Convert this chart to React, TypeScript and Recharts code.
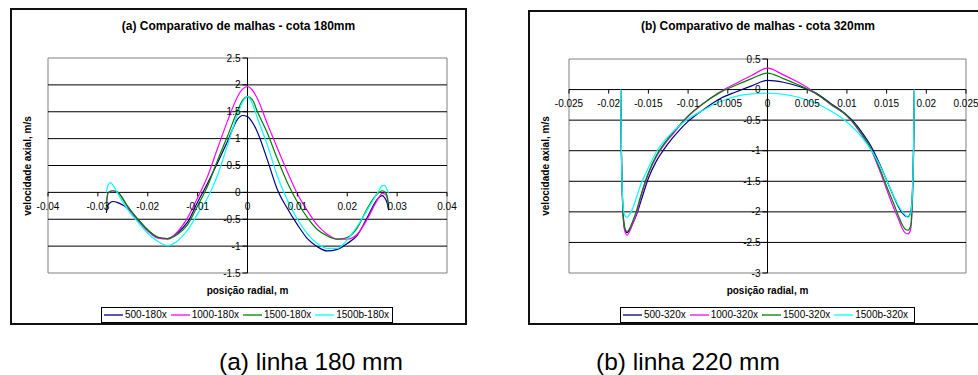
import { LineChart, Line, XAxis, YAxis, ReferenceLine, ReferenceDot, ReferenceArea } from "recharts";

// (a) cota 180mm
const xsA = [-0.0283, -0.028, -0.0275, -0.027, -0.026, -0.024, -0.022, -0.02, -0.018, -0.016, -0.014, -0.012, -0.01, -0.008, -0.006, -0.004, -0.002, -0.001, 0, 0.001, 0.002, 0.004, 0.006, 0.008, 0.01, 0.012, 0.014, 0.016, 0.018, 0.02, 0.022, 0.024, 0.026, 0.027, 0.0275, 0.028, 0.0283];
const a500 = [-0.38, -0.24, -0.19, -0.17, -0.19, -0.3, -0.5, -0.7, -0.84, -0.86, -0.75, -0.55, -0.18, 0.17, 0.55, 0.95, 1.36, 1.43, 1.41, 1.3, 1.12, 0.6, 0.05, -0.3, -0.6, -0.86, -1.01, -1.09, -1.06, -0.95, -0.8, -0.47, -0.13, -0.06, -0.1, -0.2, -0.33];
const a1000 = [-0.18, -0.02, 0.02, 0.03, 0.0, -0.28, -0.52, -0.72, -0.85, -0.87, -0.73, -0.47, -0.1, 0.3, 0.82, 1.33, 1.78, 1.92, 1.97, 1.9, 1.74, 1.27, 0.82, 0.38, -0.03, -0.34, -0.61, -0.78, -0.87, -0.87, -0.78, -0.5, -0.15, -0.02, -0.03, -0.1, -0.28];
const a1500 = [-0.3, -0.02, 0.02, 0.03, 0.0, -0.26, -0.5, -0.7, -0.83, -0.86, -0.78, -0.6, -0.25, 0.12, 0.6, 1.05, 1.52, 1.71, 1.78, 1.72, 1.5, 1.1, 0.62, 0.18, -0.18, -0.47, -0.69, -0.81, -0.87, -0.84, -0.66, -0.3, -0.03, 0.03, 0.01, -0.06, -0.3];
const a1500b = [0.0, 0.13, 0.18, 0.14, -0.02, -0.32, -0.55, -0.76, -0.91, -0.99, -0.9, -0.7, -0.4, -0.1, 0.32, 0.88, 1.45, 1.68, 1.78, 1.65, 1.38, 0.88, 0.3, -0.14, -0.5, -0.77, -0.95, -1.04, -1.04, -0.88, -0.63, -0.33, -0.02, 0.12, 0.13, 0.05, -0.02];

// (b) cota 320mm
const xsB = [-0.0185, -0.0184, -0.0182, -0.018, -0.0177, -0.0174, -0.017, -0.0165, -0.016, -0.015, -0.014, -0.013, -0.012, -0.011, -0.01, -0.008, -0.006, -0.004, -0.002, 0, 0.002, 0.004, 0.006, 0.008, 0.01, 0.011, 0.012, 0.013, 0.014, 0.015, 0.016, 0.0165, 0.017, 0.0174, 0.0177, 0.018, 0.0182, 0.0184, 0.0185];
const b500 = [0, -1.0, -2.0, -2.27, -2.34, -2.3, -2.2, -2.05, -1.85, -1.45, -1.17, -0.97, -0.8, -0.65, -0.52, -0.32, -0.15, -0.04, 0.06, 0.15, 0.12, 0.05, -0.05, -0.23, -0.42, -0.55, -0.72, -0.92, -1.18, -1.48, -1.78, -1.92, -2.02, -2.07, -2.08, -2.02, -1.8, -0.9, 0];
const b1000 = [0, -1.0, -2.0, -2.3, -2.38, -2.33, -2.2, -2.03, -1.78, -1.38, -1.1, -0.9, -0.74, -0.58, -0.44, -0.22, -0.04, 0.1, 0.23, 0.35, 0.24, 0.11, -0.05, -0.25, -0.43, -0.58, -0.77, -0.97, -1.28, -1.63, -1.97, -2.12, -2.28, -2.35, -2.36, -2.3, -2.0, -1.0, 0];
const b1500 = [0, -1.0, -1.98, -2.24, -2.32, -2.28, -2.16, -1.98, -1.75, -1.36, -1.08, -0.88, -0.72, -0.57, -0.43, -0.22, -0.05, 0.07, 0.18, 0.27, 0.18, 0.07, -0.06, -0.24, -0.43, -0.57, -0.75, -0.96, -1.25, -1.58, -1.9, -2.07, -2.22, -2.29, -2.3, -2.24, -1.95, -1.0, 0];
const b1500b = [0, -1.0, -1.9, -2.05, -2.09, -2.05, -1.95, -1.76, -1.57, -1.28, -1.02, -0.84, -0.7, -0.58, -0.48, -0.33, -0.2, -0.11, -0.07, -0.06, -0.08, -0.13, -0.22, -0.35, -0.53, -0.65, -0.8, -0.98, -1.2, -1.48, -1.77, -1.9, -2.0, -2.06, -2.09, -2.04, -1.82, -0.9, 0];

const xTicksA = [-0.04, -0.03, -0.02, -0.01, 0, 0.01, 0.02, 0.03, 0.04];
const yTicksA = [-1.5, -1, -0.5, 0, 0.5, 1, 1.5, 2, 2.5];
const xTicksB = [-0.025, -0.02, -0.015, -0.01, -0.005, 0, 0.005, 0.01, 0.015, 0.02, 0.025];
const yTicksB = [-3, -2.5, -2, -1.5, -1, -0.5, 0, 0.5];

const namesA = ["500-180x", "1000-180x", "1500-180x", "1500b-180x"];
const namesB = ["500-320x", "1000-320x", "1500-320x", "1500b-320x"];
const colors = ["#000080", "#FF00FF", "#008000", "#00FFFF"];

const FONT = '"Liberation Sans", Arial, sans-serif';

const xTick = (label: string) => (p: any) => (
  <g>
    <line x1={p.cx} y1={p.cy} x2={p.cx} y2={p.cy + 4} stroke="#000" />
    <text x={p.cx} y={p.cy + 14} dy="0.35em" textAnchor="middle" fontSize={10} fill="#000" fontFamily={FONT}>
      {label}
    </text>
  </g>
);

const yTick = (label: string) => (p: any) => (
  <g>
    <line x1={p.cx - 5} y1={p.cy} x2={p.cx} y2={p.cy} stroke="#000" />
    <text x={p.cx - 7} y={p.cy} dy="0.35em" textAnchor="end" fontSize={10} fill="#000" fontFamily={FONT}>
      {label}
    </text>
  </g>
);

function Panel({ xs, series, names, xTicks, yTicks, width, height, margin }: any) {
  const xMin = xTicks[0];
  const xMax = xTicks[xTicks.length - 1];
  const yMin = yTicks[0];
  const yMax = yTicks[yTicks.length - 1];
  return (
    <LineChart width={width} height={height} margin={margin}>
      <XAxis type="number" dataKey="x" domain={[xMin, xMax]} hide allowDataOverflow />
      <YAxis type="number" domain={[yMin, yMax]} hide allowDataOverflow />
      <ReferenceArea x1={xMin} x2={xMax} y1={yMin} y2={yMax} fill="#fff" fillOpacity={1} stroke="#808080" ifOverflow="visible" />
      {yTicks.slice(1, -1).map((t: number) => (
        <ReferenceLine key={"g" + t} y={t} stroke="#000" strokeWidth={1} />
      ))}
      <ReferenceLine x={0} stroke="#000" />
      {xTicks.map((t: number) => (
        <ReferenceDot key={"x" + t} x={t} y={0} r={1} ifOverflow="visible" shape={xTick(String(t))} />
      ))}
      {yTicks.map((t: number) => (
        <ReferenceDot key={"y" + t} x={0} y={t} r={1} ifOverflow="visible" shape={yTick(String(t))} />
      ))}
      {series.map((s: number[], i: number) => (
        <Line
          key={names[i]}
          name={names[i]}
          data={xs.map((x: number, j: number) => ({ x, y: s[j] }))}
          dataKey="y"
          type="monotone"
          stroke={colors[i]}
          strokeWidth={1.2}
          dot={false}
          activeDot={false}
          isAnimationActive={false}
        />
      ))}
    </LineChart>
  );
}

function LegendBox({ names, left, width }: { names: string[]; left: number; width: number }) {
  return (
    <div
      style={{
        position: "absolute",
        left,
        top: 307,
        width,
        height: 16,
        boxSizing: "border-box",
        border: "1px solid #000",
        background: "#fff",
        display: "flex",
        flexWrap: "nowrap",
        alignItems: "center",
        paddingLeft: 2,
        fontSize: 10,
        lineHeight: "12px",
        fontFamily: FONT,
        whiteSpace: "nowrap",
        overflow: "hidden",
      }}
    >
      {names.map((n, i) => (
        <div key={n} style={{ display: "flex", alignItems: "center", marginRight: 4, flexShrink: 0 }}>
          <svg width={19} height={4} style={{ marginRight: 2, flexShrink: 0 }}>
            <line x1={0} y1={2} x2={19} y2={2} stroke={colors[i]} strokeWidth={1.3} />
          </svg>
          <span style={{ whiteSpace: "nowrap" }}>{n}</span>
        </div>
      ))}
    </div>
  );
}

const abs = (s: any) => ({ position: "absolute" as const, fontFamily: FONT, color: "#000", whiteSpace: "nowrap" as const, ...s });

export default function App() {
  return (
    <div style={{ position: "absolute", left: 0, top: 0, width: 978, height: 375, overflow: "hidden", background: "#fff" }}>
      {/* frames */}
      <div style={abs({ left: 10, top: 8, width: 457, height: 317, border: "2px solid #111", boxSizing: "border-box" })} />
      <div style={abs({ left: 528, top: 10, width: 470, height: 315, border: "2px solid #111", boxSizing: "border-box" })} />

      <div style={abs({ left: 0, top: 0 })}>
        <Panel
          xs={xsA}
          series={[a500, a1000, a1500, a1500b]}
          names={namesA}
          xTicks={xTicksA}
          yTicks={yTicksA}
          width={478}
          height={330}
          margin={{ top: 58, right: 31, bottom: 57, left: 48 }}
        />
      </div>
      <div style={abs({ left: 488, top: 0 })}>
        <Panel
          xs={xsB}
          series={[b500, b1000, b1500, b1500b]}
          names={namesB}
          xTicks={xTicksB}
          yTicks={yTicksB}
          width={490}
          height={330}
          margin={{ top: 59, right: 12, bottom: 57, left: 81 }}
        />
      </div>

      {/* titles */}
      <div style={abs({ left: 10, width: 457, top: 19, textAlign: "center", fontSize: 12, fontWeight: "bold" })}>
        (a) Comparativo de malhas - cota 180mm
      </div>
      <div style={abs({ left: 528, width: 460, top: 19, textAlign: "center", fontSize: 12, fontWeight: "bold" })}>
        (b) Comparativo de malhas - cota 320mm
      </div>

      {/* axis titles */}
      <div style={abs({ left: 27, top: 166, transform: "translate(-50%, -50%) rotate(-90deg)", fontSize: 10, fontWeight: "bold" })}>
        velocidade axial, m/s
      </div>
      <div style={abs({ left: 545, top: 166, transform: "translate(-50%, -50%) rotate(-90deg)", fontSize: 10, fontWeight: "bold" })}>
        velocidade axial, m/s
      </div>
      <div style={abs({ left: 247.5, top: 290, transform: "translate(-50%, -50%)", fontSize: 10, fontWeight: "bold" })}>
        posição radial, m
      </div>
      <div style={abs({ left: 767.5, top: 290, transform: "translate(-50%, -50%)", fontSize: 10, fontWeight: "bold" })}>
        posição radial, m
      </div>

      <LegendBox names={namesA} left={101} width={292} />
      <LegendBox names={namesB} left={620} width={295} />

      {/* captions */}
      <div style={abs({ left: 311, top: 362, transform: "translate(-50%, -50%)", fontSize: 24.5 })}>(a) linha 180 mm</div>
      <div style={abs({ left: 688, top: 362, transform: "translate(-50%, -50%)", fontSize: 24.5 })}>(b) linha 220 mm</div>
    </div>
  );
}
